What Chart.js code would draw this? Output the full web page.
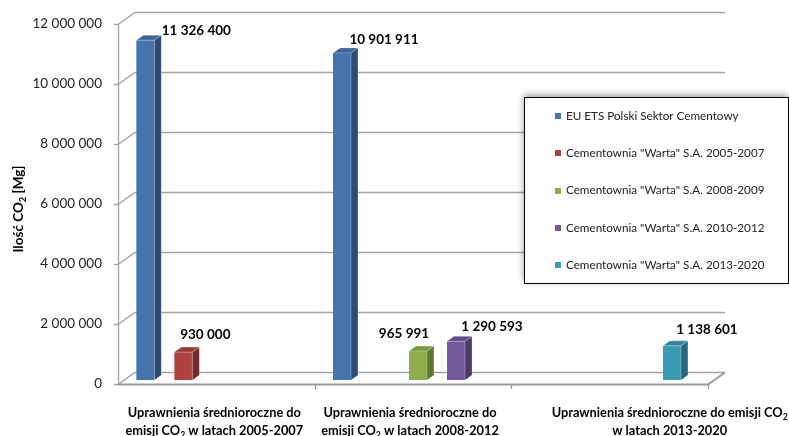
<!DOCTYPE html>
<html><head><meta charset="utf-8">
<script src="https://cdn.jsdelivr.net/npm/chart.js@4"></script>
<style>html,body{margin:0;padding:0;background:#fff}#wrap{width:789px;height:436px;position:relative}</style>
</head><body><div id="wrap"><canvas id="c" width="789" height="436"></canvas></div>
<script>
// ---- DATA ----
const categories = [
  ['Uprawnienia średnioroczne do', 'emisji CO₂ w latach 2005-2007'],
  ['Uprawnienia średnioroczne do', 'emisji CO₂ w latach 2008-2012'],
  ['Uprawnienia średnioroczne do emisji CO₂', 'w latach 2013-2020']
];
const seriesNames = [
  'EU ETS Polski Sektor Cementowy',
  'Cementownia "Warta" S.A. 2005-2007',
  'Cementownia "Warta" S.A. 2008-2009',
  'Cementownia "Warta" S.A. 2010-2012',
  'Cementownia "Warta" S.A. 2013-2020'
];
const euEts     = [11326400, 10901911, null];
const warta0507 = [930000, null, null];
const warta0809 = [null, 965991, null];
const warta1012 = [null, 1290593, null];
const warta1320 = [null, null, 1138601];
const yTickValues = [0, 2000000, 4000000, 6000000, 8000000, 10000000, 12000000];
const yTitle = 'Ilość CO₂ [Mg]';

// ---- STYLE ----
const FONT = 'Lato, "Open Sans", "Noto Sans", sans-serif';
const faces = [
  {front:'#4574AC', side:'#2D4B73', top:'#3D6598'},
  {front:'#AD4340', side:'#742B29', top:'#983A37'},
  {front:'#8DAE4D', side:'#5E7832', top:'#7A9A40'},
  {front:'#755A9B', side:'#4D3A69', top:'#654C88'},
  {front:'#3C9AB1', side:'#27687A', top:'#32879C'}
];
const WALL = {dx:17, dy:-12};
const BAR = {dx:5, dy:-4, sx:7, sy:-5};
const labelNudge = {'0,0':[56,-14],'1,0':[27,-21],'0,1':[47,-17],'2,1':[-9,-21],'3,1':[41,-19],'4,2':[40,-20]};
const catNudge = [-2, -3, 60];

function fmt(v){ return String(v).replace(/\B(?=(\d{3})+(?!\d))/g, ' '); }
function splitSub(text){
  const out=[]; let cur='';
  for (const ch of text){ if(ch==='₂'){ if(cur) out.push({t:cur,sub:false}); out.push({t:'2',sub:true}); cur=''; } else cur+=ch; }
  if(cur) out.push({t:cur,sub:false}); return out;
}
function drawRich(ctx, text, cx, cy, size, weight, color){
  const segs = splitSub(text);
  let w=0;
  segs.forEach(s=>{ ctx.font = weight+' '+(s.sub?size*0.68:size)+'px '+FONT; s.w = ctx.measureText(s.t).width; w+=s.w; });
  let x = cx - w/2;
  ctx.fillStyle = color; ctx.textAlign='left'; ctx.textBaseline='middle';
  segs.forEach(s=>{ ctx.font = weight+' '+(s.sub?size*0.68:size)+'px '+FONT; ctx.fillText(s.t, x, s.sub? cy+size*0.3 : cy); x+=s.w; });
}

const threeD = {
  id:'threeD',
  beforeDatasetsDraw(chart){
    const {ctx, chartArea:a, scales:{y}} = chart;
    ctx.save();
    ctx.strokeStyle='#a3a3a3'; ctx.lineWidth=1.3;
    yTickValues.forEach(v=>{
      const py = Math.round(y.getPixelForValue(v))+0.5;
      ctx.beginPath();
      ctx.moveTo(a.left-4, py); ctx.lineTo(a.left, py);
      ctx.lineTo(a.left+WALL.dx, py+WALL.dy);
      ctx.lineTo(a.right+WALL.dx, py+WALL.dy);
      ctx.stroke();
    });
    ctx.beginPath(); ctx.moveTo(a.left+0.5, y.getPixelForValue(yTickValues[yTickValues.length-1])); ctx.lineTo(a.left+0.5, a.bottom); ctx.stroke();
    // floor front edge
    ctx.strokeStyle='#9a9a9a'; ctx.lineWidth=2;
    ctx.beginPath(); ctx.moveTo(a.left, a.bottom+0.5); ctx.lineTo(a.right, a.bottom+0.5); ctx.lineTo(a.right+WALL.dx, a.bottom+0.5+WALL.dy); ctx.stroke();
    ctx.lineWidth=1.3;
    const n = categories.length;
    for(let i=1;i<=n;i++){
      const px = Math.round(a.left + i*a.width/n)+0.5;
      ctx.beginPath(); ctx.moveTo(px, a.bottom); ctx.lineTo(px, a.bottom+5); ctx.stroke();
    }
    ctx.restore();
    ctx.save(); ctx.translate(BAR.dx, BAR.dy);
  },
  afterDatasetsDraw(chart){
    const {ctx} = chart;
    chart.data.datasets.forEach((ds, di)=>{
      const meta = chart.getDatasetMeta(di);
      meta.data.forEach((el, i)=>{
        if (ds.data[i]==null) return;
        const p = el.getProps(['x','y','base','width'], true);
        const l = p.x - p.width/2, r = p.x + p.width/2, t = p.y, b = p.base;
        const f = faces[di];
        ctx.fillStyle = f.side;
        ctx.beginPath(); ctx.moveTo(r,t); ctx.lineTo(r+BAR.sx,t+BAR.sy); ctx.lineTo(r+BAR.sx,b+BAR.sy); ctx.lineTo(r,b); ctx.closePath(); ctx.fill();
        ctx.fillStyle = f.top;
        ctx.beginPath(); ctx.moveTo(l,t); ctx.lineTo(l+BAR.sx,t+BAR.sy); ctx.lineTo(r+BAR.sx,t+BAR.sy); ctx.lineTo(r,t); ctx.closePath(); ctx.fill();
        ctx.strokeStyle='rgba(255,255,255,0.35)'; ctx.lineWidth=0.8;
        ctx.beginPath(); ctx.moveTo(r,b); ctx.lineTo(r,t); ctx.lineTo(l,t); ctx.lineTo(l+BAR.sx,t+BAR.sy); ctx.lineTo(r+BAR.sx,t+BAR.sy); ctx.lineTo(r+BAR.sx,b+BAR.sy); ctx.moveTo(r,t); ctx.lineTo(r+BAR.sx,t+BAR.sy); ctx.stroke();
      });
    });
    ctx.restore();
    // data labels
    chart.data.datasets.forEach((ds, di)=>{
      const meta = chart.getDatasetMeta(di);
      meta.data.forEach((el, i)=>{
        if (ds.data[i]==null) return;
        const nd = labelNudge[di+','+i] || [30,-18];
        drawRich(ctx, fmt(ds.data[i]), el.x+nd[0], el.y+nd[1], 13.5, 'bold', '#000');
      });
    });
  },
  afterDraw(chart){
    const {ctx, chartArea:a, scales:{x}} = chart;
    // legend
    ctx.save();
    ctx.shadowColor='rgba(0,0,0,0.4)'; ctx.shadowBlur=7; ctx.shadowOffsetY=-2;
    ctx.fillStyle='#fff'; ctx.fillRect(524, 97, 264, 186);
    ctx.restore();
    ctx.save();
    ctx.strokeStyle='#000'; ctx.lineWidth=1; ctx.strokeRect(524.5, 97.5, 264, 186);
    seriesNames.forEach((name, i)=>{
      const cy = 116 + i*37.3;
      ctx.fillStyle = faces[i].front; ctx.fillRect(555, Math.round(cy)-3, 6, 6);
      ctx.fillStyle='#222'; ctx.font='11.7px '+FONT; ctx.textAlign='left'; ctx.textBaseline='middle';
      ctx.fillText(name, 566, cy);
    });
    // category labels
    categories.forEach((lines, i)=>{
      const cx = x.getPixelForValue(i) + catNudge[i];
      lines.forEach((ln, k)=> drawRich(ctx, ln, cx, a.bottom + 29 + k*18, 12.8, 'bold', '#000'));
    });
    // y title
    ctx.translate(19, 209); ctx.rotate(-Math.PI/2);
    drawRich(ctx, yTitle, 0, 0, 13.5, 'bold', '#000');
    ctx.restore();
  }
};

const seriesData = [euEts, warta0507, warta0809, warta1012, warta1320];
const datasets = seriesData.map((d, i)=>({
  label: seriesNames[i], data: d,
  backgroundColor: faces[i].front,
  borderWidth: 0,
  categoryPercentage: i===4 ? 0.728 : 0.966,
  barPercentage: i===4 ? 0.63 : 0.474
}));

new Chart(document.getElementById('c'), {
  type:'bar',
  data:{ labels: categories.map(c=>c.join(' ')), datasets },
  options:{
    responsive:false, animation:false,
    layout:{ padding:{top:24, right:81, bottom:52, left:0} },
    plugins:{ legend:{display:false}, tooltip:{enabled:false} },
    scales:{
      x:{ display:false, offset:true },
      y:{
        min:0, max:12000000,
        afterBuildTicks: ax=>{ ax.ticks = yTickValues.map(v=>({value:v})); },
        afterFit: ax=>{ ax.width = 118; },
        grid:{ display:false, drawTicks:true, tickLength:8 },
        border:{ display:false },
        ticks:{ padding:8, color:'#222', font:{ family:FONT, size:13.5 }, callback: v=>fmt(v) }
      }
    }
  },
  plugins:[threeD]
});
</script></body></html>
